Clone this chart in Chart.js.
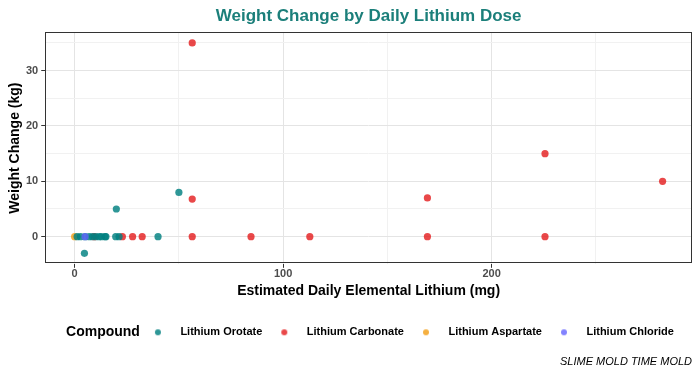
<!DOCTYPE html>
<html>
<head>
<meta charset="utf-8">
<script src="https://cdn.jsdelivr.net/npm/chart.js@4/dist/chart.umd.min.js"></script>
<style>
  html, body { margin: 0; padding: 0; background: #fff; }
  #wrap { width: 700px; height: 375px; }
</style>
</head>
<body>
<div id="wrap"><canvas id="chart"></canvas></div>
<script>
// values (x = daily elemental lithium mg, y = weight change kg)
var orotateDose   = [1.2, 2.8, 5, 7, 8.6, 10.2, 11.8, 12.9, 14.6, 15, 19.7, 21.3, 40, 20, 50, 4.7];
var orotateWeight = [0, 0, 0, 0, 0, 0, 0, 0, 0, 0, 0, 0, 0, 5, 8, -3];

var carbonateDose   = [9.4, 22.9, 27.8, 32.4, 56.4, 56.4, 56.4, 84.6, 112.8, 169.2, 169.2, 225.6, 225.6, 282];
var carbonateWeight = [0, 0, 0, 0, 0, 6.8, 35, 0, 0, 0, 7, 0, 15, 10];

var aspartateDose   = [0];
var aspartateWeight = [0];

var chlorideDose   = [5];
var chlorideWeight = [0];

var compounds = ['Lithium Orotate', 'Lithium Carbonate', 'Lithium Aspartate', 'Lithium Chloride'];
var colors = [
    'rgba(0, 128, 128, 0.82)',
    'rgba(228, 26, 28, 0.8)',
    'rgba(243, 156, 18, 0.8)',
    'rgba(100, 100, 255, 0.8)'
];

var xTicks = [0, 50, 100, 150, 200, 250];
var xLabels = [0, 100, 200];
var yTicks = [0, 5, 10, 15, 20, 25, 30, 35];
var yLabels = [0, 10, 20, 30];

function pts(xs, ys) {
    return xs.map(function(x, i) { return {x: x, y: ys[i]}; });
}

// legend marker: a small dot in a wide transparent box, so the text sits further right
function legendDot(color) {
    var c = document.createElement('canvas');
    c.width = 34; c.height = 8;
    var g = c.getContext('2d');
    if (color) {
        g.fillStyle = color;
        g.beginPath();
        g.arc(17, 4, 3, 0, Math.PI * 2);
        g.fill();
    }
    return c;
}

var FONT = '"Liberation Sans", Arial, Helvetica, sans-serif';

var seriesX = [orotateDose, carbonateDose, aspartateDose, chlorideDose];
var seriesY = [orotateWeight, carbonateWeight, aspartateWeight, chlorideWeight];
var datasets = compounds.map(function(name, i) {
    return {
        label: name,
        data: pts(seriesX[i], seriesY[i]),
        backgroundColor: colors[i],
        borderWidth: 0,
        pointRadius: 3.6,
        pointHoverRadius: 3.6,
        order: [1, 2, 3, 0][i]
    };
});

var panelBorder = {
    id: 'panelBorder',
    beforeDatasetsDraw: function(chart) {
        var a = chart.chartArea, c = chart.ctx;
        c.save();
        c.strokeStyle = '#333333';
        c.lineWidth = 1;
        c.strokeRect(Math.round(a.left) + 0.5, Math.round(a.top) + 0.5,
                     Math.round(a.right - a.left) - 1, Math.round(a.bottom - a.top) - 1);
        c.restore();
    }
};

var legendTitle = {
    id: 'legendTitle',
    afterDraw: function(chart) {
        var boxes = chart.legend.legendHitBoxes;
        if (!boxes || !boxes.length) return;
        var b = boxes[0];
        var c = chart.ctx;
        c.save();
        c.font = 'bold 14px ' + FONT;
        c.fillStyle = '#000';
        c.textBaseline = 'middle';
        c.textAlign = 'right';
        c.fillText('Compound', boxes[1].left - 1, b.top + b.height / 2);
        c.restore();
    }
};

var chart = new Chart(document.getElementById('chart'), {
    type: 'scatter',
    data: { datasets: datasets },
    plugins: [panelBorder, legendTitle],
    options: {
        responsive: true,
        maintainAspectRatio: false,
        animation: false,
        layout: { padding: { left: 8, right: 8, top: 4, bottom: 6 } },
        scales: {
            x: {
                min: -14.1, max: 296.1,
                afterBuildTicks: function(s) { s.ticks = xTicks.map(function(v) { return {value: v}; }); },
                border: { display: false },
                grid: {
                    color: function(ctx) { return ctx.tick && ctx.tick.value % 100 === 0 ? '#e4e4e4' : '#f1f1f1'; },
                    tickColor: function(ctx) { return ctx.tick && ctx.tick.value % 100 === 0 ? '#333333' : 'rgba(0,0,0,0)'; },
                    tickLength: 4
                },
                ticks: {
                    padding: 0,
                    color: '#4d4d4d',
                    font: { family: FONT, size: 11, weight: 'bold' },
                    callback: function(v) { return xLabels.indexOf(v) >= 0 ? v : ''; }
                },
                title: {
                    display: true,
                    text: 'Estimated Daily Elemental Lithium (mg)',
                    color: '#000',
                    font: { family: FONT, size: 14, weight: 'bold' },
                    padding: { top: 2, bottom: 22 }
                }
            },
            y: {
                min: -4.9, max: 36.9,
                afterBuildTicks: function(s) { s.ticks = yTicks.map(function(v) { return {value: v}; }); },
                border: { display: false },
                grid: {
                    color: function(ctx) { return ctx.tick && ctx.tick.value % 10 === 0 ? '#e4e4e4' : '#f1f1f1'; },
                    tickColor: function(ctx) { return ctx.tick && ctx.tick.value % 10 === 0 ? '#333333' : 'rgba(0,0,0,0)'; },
                    tickLength: 4
                },
                ticks: {
                    padding: 3,
                    color: '#4d4d4d',
                    font: { family: FONT, size: 11, weight: 'bold' },
                    callback: function(v) { return yLabels.indexOf(v) >= 0 ? v : ''; }
                },
                title: {
                    display: true,
                    text: 'Weight Change (kg)',
                    color: '#000',
                    font: { family: FONT, size: 14, weight: 'bold', lineHeight: 1 },
                    padding: { top: 0, bottom: 1 }
                }
            }
        },
        plugins: {
            title: {
                display: true,
                fullSize: false,
                text: 'Weight Change by Daily Lithium Dose',
                color: '#1b7f7a',
                font: { family: FONT, size: 17, weight: 'bold' },
                padding: { top: 2, bottom: 6 }
            },
            subtitle: {
                display: true,
                position: 'bottom',
                align: 'end',
                text: 'SLIME MOLD TIME MOLD',
                color: '#000',
                font: { family: FONT, size: 11, style: 'italic' },
                padding: { top: 8, bottom: 0 }
            },
            legend: {
                position: 'bottom',
                fullSize: false,
                labels: {
                    usePointStyle: true,
                    pointStyleWidth: 34,
                    boxHeight: 8,
                    padding: 5,
                    color: '#000',
                    font: { family: FONT, size: 11, weight: 'bold' },
                    generateLabels: function(ch) {
                        var items = [{
                            text: '\u2003\u2003\u2003',
                            pointStyle: legendDot(null),
                            fillStyle: 'rgba(0,0,0,0)',
                            strokeStyle: 'rgba(0,0,0,0)',
                            lineWidth: 0,
                            hidden: false,
                            datasetIndex: -1
                        }];
                        ch.data.datasets.forEach(function(ds, i) {
                            items.push({
                                text: ds.label,
                                pointStyle: legendDot(colors[i]),
                                fillStyle: colors[i],
                                strokeStyle: 'rgba(0,0,0,0)',
                                lineWidth: 0,
                                hidden: false,
                                datasetIndex: i
                            });
                        });
                        return items;
                    }
                },
                onClick: function() {}
            },
            tooltip: { enabled: false }
        }
    }
});
</script>
</body>
</html>
